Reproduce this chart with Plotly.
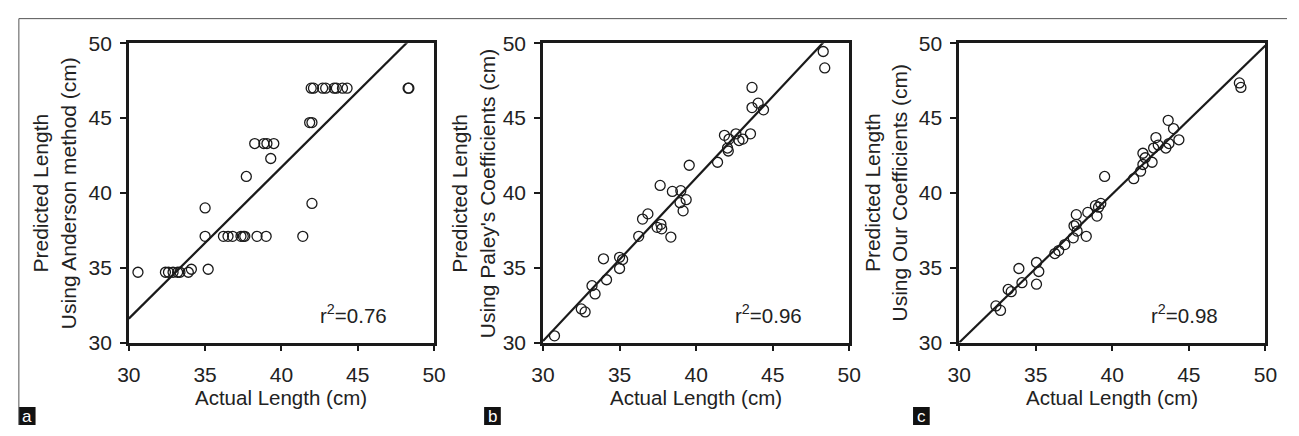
import plotly.graph_objects as go

W, H = 1299, 436

# ---------------- data ----------------
a_actual = [30.6, 32.4, 32.6, 32.9, 33.2, 33.35, 33.9, 34.1, 35.2, 35.0, 35.0,
            36.2, 36.5, 36.8, 37.35, 37.5, 37.6, 38.4, 39.0, 41.4, 37.7, 38.25,
            38.85, 39.05, 39.5, 39.3, 42.0, 41.85, 42.0, 41.95, 42.1, 42.7, 42.9,
            43.45, 43.6, 44.0, 44.3, 48.3, 48.35]
a_pred = [34.7, 34.7, 34.7, 34.7, 34.7, 34.7, 34.7, 34.9, 34.9, 39.0, 37.1,
          37.1, 37.1, 37.1, 37.1, 37.1, 37.1, 37.1, 37.1, 37.1, 41.1, 43.3,
          43.3, 43.3, 43.3, 42.3, 39.3, 44.7, 44.7, 47.0, 47.0, 47.0, 47.0,
          47.0, 47.0, 47.0, 47.0, 47.0, 47.0]

b_actual = [30.75, 32.5, 32.75, 33.2, 33.4, 33.95, 34.15, 35.0, 35.2, 35.0,
            36.25, 36.5, 36.85, 37.45, 37.7, 37.75, 37.65, 38.35, 38.45, 38.95,
            39.0, 39.15, 39.35, 39.55, 41.4, 41.85, 42.05, 42.1, 42.15, 42.6,
            42.8, 43.05, 43.55, 43.65, 43.65, 44.05, 44.4, 48.3, 48.4]
b_pred = [30.45, 32.25, 32.05, 33.8, 33.25, 35.6, 34.2, 35.7, 35.55, 34.95,
          37.1, 38.25, 38.6, 37.7, 37.9, 37.6, 40.5, 37.05, 40.1, 39.35,
          40.15, 38.8, 39.55, 41.85, 42.05, 43.85, 43.0, 42.8, 43.6, 43.95,
          43.5, 43.6, 43.95, 47.05, 45.7, 46.0, 45.55, 49.45, 48.35]

c_actual = [32.4, 32.7, 33.2, 33.4, 33.9, 34.1, 35.05, 35.2, 35.05, 36.25,
            36.5, 36.9, 37.45, 37.5, 37.65, 37.65, 37.7, 38.3, 38.4, 38.9,
            39.0, 39.1, 39.25, 39.5, 41.4, 41.85, 42.0, 42.0, 42.15, 42.6,
            42.7, 42.85, 43.0, 43.5, 43.7, 43.65, 44.0, 44.35, 48.3, 48.4]
c_pred = [32.45, 32.15, 33.55, 33.4, 34.95, 34.0, 35.35, 34.75, 33.9, 35.95,
          36.15, 36.55, 37.0, 37.8, 38.55, 37.9, 37.45, 37.1, 38.7, 39.15,
          38.45, 39.05, 39.3, 41.1, 40.95, 41.45, 42.65, 41.9, 42.35, 42.05,
          43.0, 43.7, 43.2, 43.0, 43.3, 44.85, 44.3, 43.55, 47.35, 47.05]

# regression line parameters (slope, intercept)
fit_slope = [1.012, 1.09, 0.992]
fit_intercept = [1.24, -2.6, 0.24]
r2_labels = ["0.76", "0.96", "0.98"]
panel_letters = ["a", "b", "c"]
y_titles = ["Predicted Length<br>Using Anderson method (cm)",
            "Predicted Length<br>Using Paley's Coefficients (cm)",
            "Predicted Length<br>Using Our Coefficients (cm)"]
x_title = "Actual Length (cm)"
axis_range = [30, 50]
tick_vals = [30, 35, 40, 45, 50]
# ----------------------------------------------------------------

panels = [(a_actual, a_pred), (b_actual, b_pred), (c_actual, c_pred)]

# layout geometry (pixels)
x_px = [(119, 430), (541, 853), (965, 1277)]
y_px = (33, 349)
ytitle_px = [43, 470, 890]
box_px = [(7, 24), (481, 498), (918, 935)]

FONT = "Liberation Sans, Arial, Helvetica, sans-serif"
INK = "#1a1a1a"
TXT = "#222222"

fig = go.Figure()
layout = dict(
    width=W, height=H,
    margin=dict(l=0, r=0, t=0, b=0),
    paper_bgcolor="white", plot_bgcolor="white",
    showlegend=False,
    font=dict(family=FONT, size=20, color=TXT),
)
annotations = []
shapes = []

ydom = [1 - y_px[1] / H, 1 - y_px[0] / H]

for i, ((xs, ys), (x0, x1)) in enumerate(zip(panels, x_px)):
    n = "" if i == 0 else str(i + 1)
    xa, ya = "x" + n, "y" + n
    axis_common = dict(
        range=axis_range, tickvals=tick_vals, showgrid=False, zeroline=False,
        showline=True, linecolor=INK, linewidth=2.5, mirror=True,
        ticks="outside", ticklen=6, tickwidth=2, tickcolor=INK,
        tickfont=dict(family=FONT, size=21, color=TXT),
        fixedrange=True,
    )
    layout["xaxis" + n] = dict(axis_common, domain=[x0 / W, x1 / W], anchor=ya, ticklabelstandoff=5)
    layout["yaxis" + n] = dict(axis_common, domain=ydom, anchor=xa, ticklabelstandoff=4)

    fig.add_trace(go.Scatter(
        x=xs, y=ys, mode="markers", xaxis=xa, yaxis=ya,
        marker=dict(symbol="circle-open", size=10, color=INK, line=dict(width=1.3, color=INK)),
        cliponaxis=False, hoverinfo="skip",
    ))
    lx = axis_range
    ly = [fit_slope[i] * v + fit_intercept[i] for v in lx]
    fig.add_trace(go.Scatter(
        x=lx, y=ly, mode="lines", xaxis=xa, yaxis=ya,
        line=dict(color=INK, width=2.2), hoverinfo="skip",
    ))

    # r^2 annotation
    annotations.append(dict(
        xref=xa + " domain", yref=ya + " domain", x=0.735, y=0.095,
        text="r<sup>2</sup>=" + r2_labels[i], showarrow=False,
        font=dict(family=FONT, size=20.5, color=TXT),
        xanchor="center", yanchor="middle",
    ))
    # x title
    annotations.append(dict(
        xref="paper", yref="paper", x=(x0 + x1) / 2 / W, y=1 - 407 / H,
        text=x_title, showarrow=False, xanchor="center", yanchor="middle",
        font=dict(family=FONT, size=20.5, color=TXT),
    ))
    # y title
    annotations.append(dict(
        xref="paper", yref="paper", x=ytitle_px[i] / W, y=1 - (sum(y_px) / 2) / H,
        text=y_titles[i], showarrow=False, textangle=-90,
        xanchor="center", yanchor="middle",
        font=dict(family=FONT, size=21, color=TXT),
    ))
    # panel letter box
    bx0, bx1 = box_px[i]
    shapes.append(dict(
        type="rect", xref="paper", yref="paper",
        x0=bx0 / W, x1=bx1 / W, y0=0, y1=1 - 417 / H,
        fillcolor="#111111", line=dict(width=0),
    ))
    annotations.append(dict(
        xref="paper", yref="paper", x=(bx0 + bx1) / 2 / W, y=1 - 427 / H,
        text=panel_letters[i], showarrow=False, xanchor="center", yanchor="middle",
        font=dict(family=FONT, size=17, color="white"),
    ))

# outer frame (top and left)
shapes.append(dict(type="line", xref="paper", yref="paper",
                   x0=7 / W, x1=1, y0=1 - 7 / H, y1=1 - 7 / H,
                   line=dict(color="#555555", width=1)))
shapes.append(dict(type="line", xref="paper", yref="paper",
                   x0=7 / W, x1=7 / W, y0=0, y1=1 - 7 / H,
                   line=dict(color="#555555", width=1)))

layout["annotations"] = annotations
layout["shapes"] = shapes
fig.update_layout(**layout)
fig.write_html(
    "out.html",
    config={"displayModeBar": False, "responsive": False},
    post_script="document.body.style.margin='0';document.body.style.overflow='hidden';",
)
